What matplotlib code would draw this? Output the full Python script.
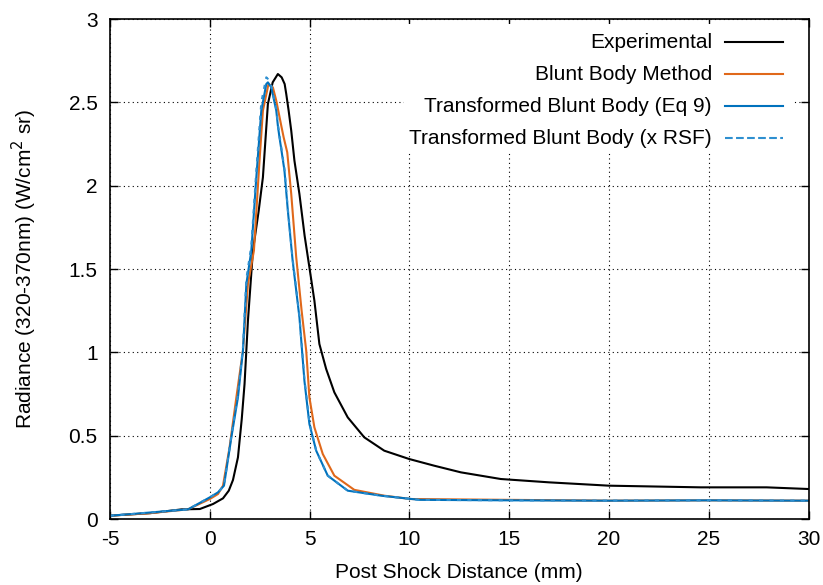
import matplotlib
matplotlib.use("Agg")
import matplotlib.pyplot as plt
import numpy as np

plt.rcParams['font.family'] = ['Liberation Sans', 'DejaVu Sans']
plt.rcParams['axes.unicode_minus'] = False

# experimental data
x_exp = [-5, -3, -1.4, -0.5, 0.16, 0.66, 0.95, 1.16, 1.41, 1.6, 1.74, 1.91, 2.16, 2.45, 2.66, 2.91,
         3.15, 3.41, 3.6, 3.75, 3.83, 3.95, 4.08, 4.24, 4.49, 4.75, 4.99, 5.24, 5.49, 5.83, 6.24, 6.91,
         7.74, 8.74, 9.99, 11.24, 12.58, 14.58, 17, 20, 24.6, 27.9, 30]
y_exp = [0.02, 0.035, 0.058, 0.06, 0.09, 0.124, 0.17, 0.234, 0.37, 0.6, 0.81, 1.19, 1.61, 1.85, 2.05, 2.49,
         2.62, 2.67, 2.65, 2.61, 2.55, 2.45, 2.33, 2.15, 1.95, 1.7, 1.51, 1.31, 1.05, 0.9, 0.76, 0.61,
         0.49, 0.41, 0.36, 0.32, 0.28, 0.24, 0.22, 0.20, 0.19, 0.19, 0.18]

# blunt body method
x_bb = [-5, -3, -1.1, 0, 0.41, 0.66, 0.99, 1.33, 1.66, 1.91, 2.21, 2.49, 2.66, 2.94, 3.16, 3.33, 3.58, 3.7,
        3.88, 4.08, 4.33, 4.6, 4.83, 4.99, 5.24, 5.66, 6.24, 7.24, 8.74, 10.07, 15, 20, 25, 30]
y_bb = [0.02, 0.035, 0.058, 0.12, 0.15, 0.2, 0.43, 0.73, 1.01, 1.41, 1.61, 2.15, 2.45, 2.61, 2.59, 2.51, 2.36, 2.29,
        2.2, 1.95, 1.57, 1.25, 1.01, 0.73, 0.55, 0.39, 0.26, 0.175, 0.14, 0.12, 0.115, 0.11, 0.112, 0.11]

# transformed blunt body (Eq 9)
x_tb = [-5, -3.9, -1.09, 0, 0.41, 0.71, 1.08, 1.41, 1.66, 1.83, 2.08, 2.33, 2.58, 2.83, 2.91, 3.08, 3.33,
        3.41, 3.49, 3.58, 3.74, 3.91, 4.15, 4.49, 4.74, 4.99, 5.33, 5.91, 6.91, 8.58, 10.5, 15, 20, 25, 30]
y_tb = [0.02, 0.03, 0.058, 0.13, 0.16, 0.2, 0.49, 0.73, 1.01, 1.41, 1.61, 2.05, 2.45, 2.61, 2.62, 2.59, 2.45,
        2.36, 2.29, 2.22, 2.09, 1.85, 1.55, 1.21, 0.83, 0.57, 0.41, 0.26, 0.17, 0.14, 0.115, 0.112, 0.11, 0.112, 0.11]

# transformed blunt body (x RSF)
x_rsf = x_tb
y_rsf = [0.02, 0.03, 0.058, 0.13, 0.16, 0.2, 0.5, 0.75, 1.03, 1.44, 1.64, 2.09, 2.5, 2.65, 2.64, 2.6, 2.46,
         2.37, 2.3, 2.23, 2.1, 1.86, 1.56, 1.22, 0.84, 0.58, 0.41, 0.26, 0.17, 0.14, 0.115, 0.112, 0.11, 0.112, 0.11]

labels = ['Experimental', 'Blunt Body Method', 'Transformed Blunt Body (Eq 9)', 'Transformed Blunt Body (x RSF)']

fig = plt.figure(figsize=(8.23, 5.85), dpi=100)
ax = fig.add_axes([0.1337, 0.1128, 0.8487, 0.8547])

lines = []
lines += ax.plot(x_exp, y_exp, color='black', lw=1.5)
lines += ax.plot(x_bb, y_bb, color='#E0681A', lw=1.5)
lines += ax.plot(x_tb, y_tb, color='#0072BD', lw=1.5)
lines += ax.plot(x_rsf, y_rsf, color='#2E8FD0', lw=1.5, ls=(0, (2, 3)))

ax.set_xlim(-5, 30)
ax.set_ylim(0, 3)
ax.set_xticks(np.arange(-5, 31, 5))
ax.set_yticks(np.arange(0, 3.01, 0.5))
ax.set_yticklabels(['0', '0.5', '1', '1.5', '2', '2.5', '3'])
ax.tick_params(direction='in', top=True, right=True, labelsize=15, length=6, width=1)
ax.tick_params(axis='x', pad=8)
ax.tick_params(axis='y', pad=9)
ax.grid(True, color='black', ls=(0, (1, 3)), lw=0.8)
for s in ax.spines.values():
    s.set_linewidth(1.2)

ax.set_xlabel('Post Shock Distance (mm)', fontsize=15, va='center')
ax.set_ylabel('Radiance (320-370nm) (W/cm$^2$ sr)', fontsize=15, va='center')
ax.xaxis.set_label_coords(0.5, -0.106)
ax.yaxis.set_label_coords(-0.122, 0.5)

# key, gnuplot style: text right-aligned, sample line on the right, grid blanked behind it
W, H = 823.0, 585.0
fig.add_artist(plt.Rectangle((404 / W, 1 - 152 / H), (792 - 404) / W, (152 - 24) / H,
                             facecolor='white', edgecolor='none', transform=fig.transFigure, zorder=1))
for i, (ln, lab) in enumerate(zip(lines, labels)):
    yr = 1 - (42 + 32 * i) / H
    fig.text(712 / W, yr, lab, ha='right', va='center', fontsize=15, zorder=3)
    fig.add_artist(plt.Line2D([725 / W, 783 / W], [yr, yr], color=ln.get_color(),
                              lw=ln.get_linewidth(), ls=ln.get_linestyle(),
                              transform=fig.transFigure, zorder=2))

fig.savefig('out.png', dpi=100)
